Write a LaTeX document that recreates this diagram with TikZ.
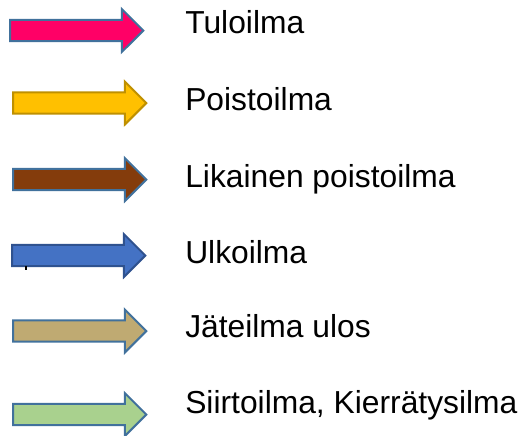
\documentclass[tikz,border=0pt]{standalone}
\usepackage{fontspec}
\setmainfont{Liberation Sans}
\usetikzlibrary{shapes.arrows}

\definecolor{cPink}{HTML}{FF0066}
\definecolor{cYellow}{HTML}{FFC000}
\definecolor{cBrown}{HTML}{843C0C}
\definecolor{cBlue}{HTML}{4472C4}
\definecolor{cTan}{HTML}{BFAA72}
\definecolor{cGreen}{HTML}{A9D18E}
\definecolor{edgeSteel}{HTML}{41719C}
\definecolor{edgeGold}{HTML}{BF9000}
\definecolor{edgeNavy}{HTML}{2F528F}

\tikzset{
  flowarrow/.style={shape=single arrow, draw=edgeSteel, line width=1.5pt,
    minimum height=100pt, inner xsep=0pt, inner ysep=7.2pt,
    single arrow head extend=8.2pt, single arrow tip angle=90,
    single arrow head indent=0pt, anchor=tail},
  legendtext/.style={anchor=base west, inner sep=0pt,
    font=\fontsize{23.85}{28}\selectfont, text=black}
}

\begin{document}
\begin{tikzpicture}[x=0.75pt, y=-0.75pt]
  \useasboundingbox (0,0) rectangle (526,436);

  % legend arrows, placed by the middle of their tail ends
  \node[flowarrow, fill=cPink]                  (aTulo)   at (9,30.5)   {};
  \node[flowarrow, fill=cYellow, draw=edgeGold] (aPoisto) at (12,103)   {};
  \node[flowarrow, fill=cBrown]                 (aLika)   at (12,179.5) {};
  \node[flowarrow, fill=cBlue, draw=edgeNavy]   (aUlko)   at (11,255.5) {};
  \node[flowarrow, fill=cTan]                   (aJate)   at (12,331)   {};
  \node[flowarrow, fill=cGreen]                 (aSiirto) at (12,414.5) {};

  % stray cursor mark under the outdoor-air arrow
  \fill[black] (24.5,265.5) rectangle (26.5,269.5);

  % legend labels
  \node[legendtext] (tTulo)   at (185,33)  {Tuloilma};
  \node[legendtext] (tPoisto) at (185,110) {Poistoilma};
  \node[legendtext] (tLika)   at (185,187) {Likainen poistoilma};
  \node[legendtext] (tUlko)   at (185,263) {Ulkoilma};
  \node[legendtext] (tJate)   at (185,337) {Jäteilma ulos};
  \node[legendtext] (tSiirto) at (185,413) {Siirtoilma, Kierrätysilma};
\end{tikzpicture}
\end{document}
